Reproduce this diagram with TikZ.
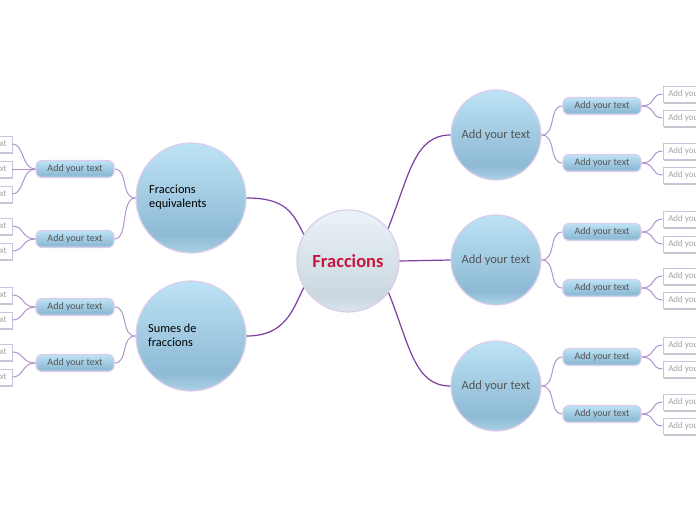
\documentclass[tikz,border=0pt]{standalone}
\usepackage{fontspec}
\setmainfont{Carlito}
\usetikzlibrary{shadows}
\definecolor{mainline}{HTML}{7B3F9F}
\definecolor{subline}{HTML}{B293CE}
\definecolor{rim}{HTML}{DCCDEB}
\definecolor{leafrim}{HTML}{CFC2DD}
\definecolor{dtext}{HTML}{555555}
\definecolor{ltext}{HTML}{A3A3A3}
\definecolor{fracred}{HTML}{C8163C}
\definecolor{topb}{HTML}{BDE3F5}
\definecolor{darkb}{HTML}{8EBAD5}
\definecolor{bandb}{HTML}{A7CFE4}
\definecolor{topc}{HTML}{EAF3F8}
\definecolor{darkc}{HTML}{CBD7DF}
\definecolor{bandc}{HTML}{D8E3E9}
\pgfdeclareverticalshading{ballblue}{100bp}{color(0bp)=(bandb); color(26bp)=(bandb); color(33bp)=(darkb); color(75bp)=(topb); color(100bp)=(topb)}
\pgfdeclareverticalshading{hubgrey}{100bp}{color(0bp)=(bandc); color(26bp)=(bandc); color(33bp)=(darkc); color(75bp)=(topc); color(100bp)=(topc)}
\tikzset{
  ball/.style={circle, draw=rim, line width=1.2pt, shading=ballblue, inner sep=0pt},
  hub/.style={circle, draw=rim, line width=1.2pt, shading=hubgrey, minimum size=102pt, inner sep=0pt,
    font=\fontsize{18.5}{22}\selectfont\bfseries, text=fracred},
  subbox/.style={rounded corners=6pt, draw=rim, line width=1.2pt, shading=ballblue, minimum width=78pt,
    minimum height=17pt, inner sep=0pt, font=\fontsize{10}{12}\selectfont, text=dtext},
  leafbox/.style={draw=leafrim, fill=white, line width=0.8pt, minimum width=60pt, minimum height=16pt,
    inner sep=0pt, font=\fontsize{9}{11}\selectfont, text=ltext,
    drop shadow={shadow xshift=1pt, shadow yshift=-1.5pt, fill=black, opacity=0.22}},
  mainconn/.style={draw=mainline, line width=1.2pt},
  subconn/.style={draw=subline, line width=1pt},
  balltext/.style={font=\fontsize{12.5}{15}\selectfont, text=dtext},
  sidetext/.style={font=\fontsize{12.3}{14}\selectfont, text=black, align=left, anchor=west, inner sep=0pt}
}
\begin{document}
\begin{tikzpicture}[x=1pt,y=-1pt]
\useasboundingbox (0,0) rectangle (696,520);
\clip (0,0) rectangle (696,520);

% ---------- hub ----------
\node[hub] (c) at (348,261) {Fraccions};

% ---------- right main circles ----------
\node[ball, minimum size=90pt, balltext] (r1) at (496,135) {Add your text};
\node[ball, minimum size=90pt, balltext] (r2) at (496,260) {Add your text};
\node[ball, minimum size=90pt, balltext] (r3) at (496,386) {Add your text};

% ---------- left main circles ----------
\node[ball, minimum size=110pt] (eq) at (191,198) {};
\node[sidetext] (eqt) at (149,197) {Fraccions\\equivalents};
\node[ball, minimum size=110pt] (su) at (191,336) {};
\node[sidetext] (sut) at (148,335) {Sumes de\\fraccions};

% ---------- right subtopics ----------
\node[subbox] (s1) at (602,106) {Add your text};
\node[subbox] (s2) at (602,163) {Add your text};
\node[subbox] (s3) at (602,232) {Add your text};
\node[subbox] (s4) at (602,288) {Add your text};
\node[subbox] (s5) at (602,357) {Add your text};
\node[subbox] (s6) at (602,414) {Add your text};

% ---------- left subtopics ----------
\node[subbox] (t1) at (75,169) {Add your text};
\node[subbox] (t2) at (75,239) {Add your text};
\node[subbox] (t3) at (75,307) {Add your text};
\node[subbox] (t4) at (75,363) {Add your text};

% ---------- right leaves ----------
\node[leafbox] (a1) at (693,94) {Add your text};
\node[leafbox] (a2) at (693,118) {Add your text};
\node[leafbox] (a3) at (693,151) {Add your text};
\node[leafbox] (a4) at (693,175) {Add your text};
\node[leafbox] (a5) at (693,219) {Add your text};
\node[leafbox] (a6) at (693,244) {Add your text};
\node[leafbox] (a7) at (693,276) {Add your text};
\node[leafbox] (a8) at (693,300) {Add your text};
\node[leafbox] (a9) at (693,345) {Add your text};
\node[leafbox] (a10) at (693,369) {Add your text};
\node[leafbox] (a11) at (693,402) {Add your text};
\node[leafbox] (a12) at (693,426) {Add your text};

% ---------- left leaves ----------
\node[leafbox] (b1) at (-18,144) {Add your text};
\node[leafbox] (b2) at (-18,169) {Add your text};
\node[leafbox] (b3) at (-18,194) {Add your text};
\node[leafbox] (b4) at (-18,226) {Add your text};
\node[leafbox] (b5) at (-18,251) {Add your text};
\node[leafbox] (b6) at (-18,295) {Add your text};
\node[leafbox] (b7) at (-18,320) {Add your text};
\node[leafbox] (b8) at (-18,352) {Add your text};
\node[leafbox] (b9) at (-18,377) {Add your text};

% ---------- hub connectors ----------
\draw[mainconn] (c.39) .. controls +(21,-53) and +(-36,0) .. (r1.west);
\draw[mainconn] (c.east) -- (r2.west);
\draw[mainconn] (c.322) .. controls +(21,53) and +(-36,0) .. (r3.west);
\draw[mainconn] (c.149) .. controls +(-11,-22) and +(39,0) .. (eq.east);
\draw[mainconn] (c.211) .. controls +(-11,22) and +(39,0) .. (su.east);

% ---------- circle -> subtopic ----------
\draw[subconn] (r1.east) .. controls +(15,0) and +(-14,0) .. (s1.west);
\draw[subconn] (r1.east) .. controls +(15,0) and +(-14,0) .. (s2.west);
\draw[subconn] (r2.east) .. controls +(15,0) and +(-14,0) .. (s3.west);
\draw[subconn] (r2.east) .. controls +(15,0) and +(-14,0) .. (s4.west);
\draw[subconn] (r3.east) .. controls +(15,0) and +(-14,0) .. (s5.west);
\draw[subconn] (r3.east) .. controls +(15,0) and +(-14,0) .. (s6.west);
\draw[subconn] (eq.west) .. controls +(-15,0) and +(14,0) .. (t1.east);
\draw[subconn] (eq.west) .. controls +(-15,0) and +(14,0) .. (t2.east);
\draw[subconn] (su.west) .. controls +(-15,0) and +(14,0) .. (t3.east);
\draw[subconn] (su.west) .. controls +(-15,0) and +(14,0) .. (t4.east);

% ---------- subtopic -> leaf (right) ----------
\draw[subconn] (s1.east) .. controls +(14,0) and +(-12,0) .. (a1.west);
\draw[subconn] (s1.east) .. controls +(14,0) and +(-12,0) .. (a2.west);
\draw[subconn] (s2.east) .. controls +(14,0) and +(-12,0) .. (a3.west);
\draw[subconn] (s2.east) .. controls +(14,0) and +(-12,0) .. (a4.west);
\draw[subconn] (s3.east) .. controls +(14,0) and +(-12,0) .. (a5.west);
\draw[subconn] (s3.east) .. controls +(14,0) and +(-12,0) .. (a6.west);
\draw[subconn] (s4.east) .. controls +(14,0) and +(-12,0) .. (a7.west);
\draw[subconn] (s4.east) .. controls +(14,0) and +(-12,0) .. (a8.west);
\draw[subconn] (s5.east) .. controls +(14,0) and +(-12,0) .. (a9.west);
\draw[subconn] (s5.east) .. controls +(14,0) and +(-12,0) .. (a10.west);
\draw[subconn] (s6.east) .. controls +(14,0) and +(-12,0) .. (a11.west);
\draw[subconn] (s6.east) .. controls +(14,0) and +(-12,0) .. (a12.west);

% ---------- subtopic -> leaf (left) ----------
\draw[subconn] (t1.west) .. controls +(-14,0) and +(12,0) .. (b1.east);
\draw[subconn] (t1.west) -- (b2.east);
\draw[subconn] (t1.west) .. controls +(-14,0) and +(12,0) .. (b3.east);
\draw[subconn] (t2.west) .. controls +(-14,0) and +(12,0) .. (b4.east);
\draw[subconn] (t2.west) .. controls +(-14,0) and +(12,0) .. (b5.east);
\draw[subconn] (t3.west) .. controls +(-14,0) and +(12,0) .. (b6.east);
\draw[subconn] (t3.west) .. controls +(-14,0) and +(12,0) .. (b7.east);
\draw[subconn] (t4.west) .. controls +(-14,0) and +(12,0) .. (b8.east);
\draw[subconn] (t4.west) .. controls +(-14,0) and +(12,0) .. (b9.east);
\end{tikzpicture}
\end{document}
